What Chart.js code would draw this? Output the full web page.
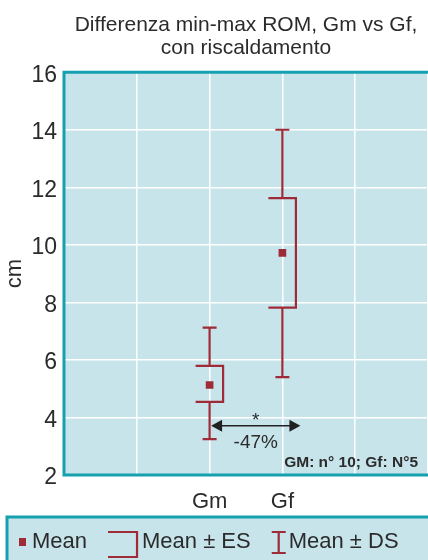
<!DOCTYPE html>
<html>
<head>
<meta charset="utf-8">
<script src="https://cdn.jsdelivr.net/npm/chart.js@4.4.1/dist/chart.umd.min.js"></script>
<style>
  html, body { margin: 0; padding: 0; background: #fff; overflow: hidden; }
  canvas { display: block; }
</style>
</head>
<body>
<canvas id="chart" width="428" height="560"></canvas>
<script>
// ── data ──────────────────────────────────────────────
const TITLE_LINES   = ["Differenza min-max ROM, Gm vs Gf,", "con riscaldamento"];
const CATEGORIES    = ["Gm", "Gf"];
const X_SLOTS       = ["", "", "Gm", "Gf", "", ""];
const MEAN          = [5.13, 9.72];
const ES_LOW        = [4.54, 7.82];
const ES_HIGH       = [5.79, 11.62];
const DS_LOW        = [3.25, 5.40];
const DS_HIGH       = [7.12, 14.0];
const Y_MIN = 2, Y_MAX = 16, Y_STEP = 2;
const Y_LABEL       = "cm";
const LEGEND_LABELS = ["Mean", "Mean \u00b1 ES", "Mean \u00b1 DS"];
const COMPARE_Y     = 3.71;
const COMPARE_STAR  = "*";
const COMPARE_TEXT  = "-47%";
const NOTE_TEXT     = "GM: n\u00b0 10; Gf: N\u00b05";

// ── style ─────────────────────────────────────────────
const FONT     = "'Liberation Sans', Arial, sans-serif";
const INK      = "#2b2b2b";
const PLOT_BG  = "#c6e4ea";
const TEAL     = "#14a0ae";
const RED      = "#9e2b37";

const slotPx = (chart, cat) => chart.scales.x.getPixelForValue(X_SLOTS.indexOf(cat));

const decor = {
  id: "decor",
  beforeDraw(chart) {
    const { ctx, chartArea: a } = chart;
    ctx.save();
    ctx.fillStyle = PLOT_BG;
    ctx.fillRect(a.left, a.top, a.right - a.left + 10, a.bottom - a.top);
    ctx.restore();
  },
  beforeDatasetsDraw(chart) {
    const { ctx, chartArea: a, scales: { y } } = chart;
    ctx.save();
    // plot frame (right side runs off the picture)
    ctx.strokeStyle = TEAL;
    ctx.lineWidth = 3;
    ctx.beginPath();
    ctx.moveTo(a.right + 10, a.top);
    ctx.lineTo(a.left, a.top);
    ctx.lineTo(a.left, a.bottom);
    ctx.lineTo(a.right + 10, a.bottom);
    ctx.stroke();

    // error bars: DS whiskers + ES bracket
    ctx.strokeStyle = RED;
    ctx.lineWidth = 2.2;
    ctx.lineCap = "butt";
    CATEGORIES.forEach((cat, i) => {
      const px  = slotPx(chart, cat);
      const eHi = y.getPixelForValue(ES_HIGH[i]);
      const eLo = y.getPixelForValue(ES_LOW[i]);
      const dHi = y.getPixelForValue(DS_HIGH[i]);
      const dLo = y.getPixelForValue(DS_LOW[i]);
      ctx.beginPath();
      ctx.moveTo(px - 14, eHi); ctx.lineTo(px + 13.5, eHi);
      ctx.lineTo(px + 13.5, eLo); ctx.lineTo(px - 14, eLo);
      ctx.moveTo(px, dHi); ctx.lineTo(px, eHi);
      ctx.moveTo(px, eLo); ctx.lineTo(px, dLo);
      ctx.moveTo(px - 7, dHi); ctx.lineTo(px + 7, dHi);
      ctx.moveTo(px - 7, dLo); ctx.lineTo(px + 7, dLo);
      ctx.stroke();
    });
    ctx.restore();
  },
  afterDraw(chart) {
    const { ctx, chartArea: a, scales: { y } } = chart;
    ctx.save();

    // comparison arrow
    const x1 = slotPx(chart, CATEGORIES[0]) + 1.5;
    const x2 = slotPx(chart, CATEGORIES[1]) + 18;
    const ay = y.getPixelForValue(COMPARE_Y);
    ctx.strokeStyle = "#222";
    ctx.fillStyle = "#222";
    ctx.lineWidth = 1.6;
    ctx.beginPath();
    ctx.moveTo(x1 + 8, ay); ctx.lineTo(x2 - 8, ay);
    ctx.stroke();
    ctx.beginPath();
    ctx.moveTo(x1, ay); ctx.lineTo(x1 + 11, ay - 6); ctx.lineTo(x1 + 11, ay + 6); ctx.closePath();
    ctx.moveTo(x2, ay); ctx.lineTo(x2 - 11, ay - 6); ctx.lineTo(x2 - 11, ay + 6); ctx.closePath();
    ctx.fill();

    const mid = (x1 + x2) / 2;
    ctx.fillStyle = INK;
    ctx.textAlign = "center";
    ctx.textBaseline = "middle";
    ctx.font = `19px ${FONT}`;
    ctx.fillText(COMPARE_STAR, mid, ay - 5);
    ctx.fillText(COMPARE_TEXT, mid, ay + 17);

    // sample size note
    ctx.font = `bold 15.5px ${FONT}`;
    ctx.textAlign = "right";
    ctx.fillText(NOTE_TEXT, 418, a.bottom - 12);

    // legend box
    const top = 517;
    ctx.fillStyle = PLOT_BG;
    ctx.fillRect(7, top, 440, 60);
    ctx.strokeStyle = TEAL;
    ctx.lineWidth = 3;
    ctx.strokeRect(7, top, 440, 60);

    const ly = 542;
    ctx.font = `22px ${FONT}`;
    ctx.textAlign = "left";
    ctx.textBaseline = "middle";
    let lx = 19;
    // mean marker
    ctx.fillStyle = RED;
    ctx.fillRect(lx, ly - 4, 7, 8);
    lx += 13;
    ctx.fillStyle = INK;
    ctx.fillText(LEGEND_LABELS[0], lx, ly);
    lx += ctx.measureText(LEGEND_LABELS[0]).width + 21;
    // ES bracket icon
    ctx.strokeStyle = RED;
    ctx.lineWidth = 2.2;
    ctx.beginPath();
    ctx.moveTo(lx, 532); ctx.lineTo(lx + 29, 532); ctx.lineTo(lx + 29, 557); ctx.lineTo(lx, 557);
    ctx.stroke();
    lx += 34;
    ctx.fillText(LEGEND_LABELS[1], lx, ly);
    lx += ctx.measureText(LEGEND_LABELS[1]).width + 21;
    // DS whisker icon
    ctx.beginPath();
    ctx.moveTo(lx + 7, 532); ctx.lineTo(lx + 7, 553);
    ctx.moveTo(lx, 532); ctx.lineTo(lx + 14, 532);
    ctx.moveTo(lx, 553); ctx.lineTo(lx + 14, 553);
    ctx.stroke();
    lx += 17;
    ctx.fillText(LEGEND_LABELS[2], lx, ly);

    ctx.restore();
  },
};

new Chart(document.getElementById("chart"), {
  type: "line",
  data: {
    labels: X_SLOTS,
    datasets: [{
      label: LEGEND_LABELS[0],
      data: CATEGORIES.map((c, i) => ({ x: c, y: MEAN[i] })),
      showLine: false,
      pointStyle: "rect",
      pointRadius: 5.4,
      pointHoverRadius: 5.4,
      backgroundColor: RED,
      borderColor: RED,
      borderWidth: 0,
    }],
  },
  options: {
    responsive: false,
    animation: false,
    layout: { autoPadding: false, padding: { left: 0, right: 0, top: 0, bottom: 0 } },
    plugins: {
      legend: { display: false },
      tooltip: { enabled: false },
      title: {
        display: true,
        text: TITLE_LINES,
        fullSize: false,
        color: INK,
        font: { family: FONT, size: 21, weight: "normal", lineHeight: 1.1 },
        padding: { top: 14, bottom: 12 },
      },
    },
    scales: {
      x: {
        type: "category",
        offset: false,
        grid: { color: "#ffffff", lineWidth: 1.5, drawTicks: false },
        border: { display: false },
        ticks: {
          color: INK,
          padding: 14,
          autoSkip: false,
          maxRotation: 0,
          font: { family: FONT, size: 22 },
        },
        afterFit: s => { s.height = 85; s.paddingRight = 0; },
      },
      y: {
        min: Y_MIN,
        max: Y_MAX,
        grid: { color: "#ffffff", lineWidth: 1.5, drawTicks: false },
        border: { display: false },
        ticks: {
          stepSize: Y_STEP,
          color: INK,
          padding: 7,
          labelOffset: 3,
          font: { family: FONT, size: 23 },
        },
        title: {
          display: true,
          text: Y_LABEL,
          color: INK,
          font: { family: FONT, size: 22 },
          padding: { top: 2, bottom: 0 },
        },
        afterFit: s => { s.width = 64; },
      },
    },
  },
  plugins: [decor],
});
</script>
</body>
</html>
